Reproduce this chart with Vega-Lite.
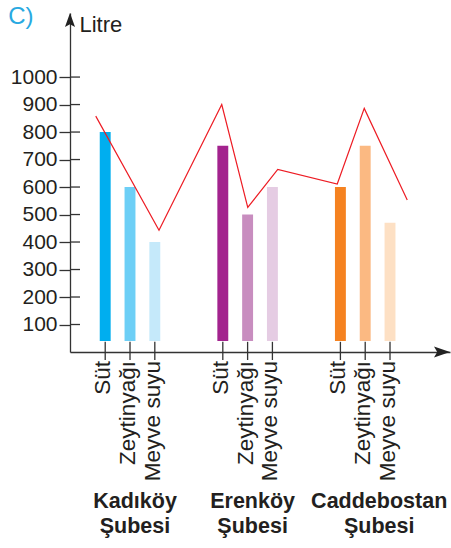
{
  "$schema": "https://vega.github.io/schema/vega-lite/v6.json",
  "autosize": {"type": "none"},
  "padding": {"left": 70, "top": 13, "right": 1, "bottom": 196},
  "width": 380,
  "height": 339,
  "background": "white",
  "config": {"view": {"stroke": null}, "font": "Liberation Sans"},
  "datasets": {
    "bars": [
      {"branch": "Kadıköy", "product": "Süt", "series": "Kadıköy Süt", "litre": 800},
      {"branch": "Kadıköy", "product": "Zeytinyağı", "series": "Kadıköy Zeytinyağı", "litre": 600},
      {"branch": "Kadıköy", "product": "Meyve suyu", "series": "Kadıköy Meyve suyu", "litre": 400},
      {"branch": "Erenköy", "product": "Süt", "series": "Erenköy Süt", "litre": 750},
      {"branch": "Erenköy", "product": "Zeytinyağı", "series": "Erenköy Zeytinyağı", "litre": 500},
      {"branch": "Erenköy", "product": "Meyve suyu", "series": "Erenköy Meyve suyu", "litre": 600},
      {"branch": "Caddebostan", "product": "Süt", "series": "Caddebostan Süt", "litre": 600},
      {"branch": "Caddebostan", "product": "Zeytinyağı", "series": "Caddebostan Zeytinyağı", "litre": 750},
      {"branch": "Caddebostan", "product": "Meyve suyu", "series": "Caddebostan Meyve suyu", "litre": 470}
    ],
    "branches": [
      {"branch": "Kadıköy", "label": "Kadıköy\nŞubesi"},
      {"branch": "Erenköy", "label": "Erenköy\nŞubesi"},
      {"branch": "Caddebostan", "label": "Caddebostan\nŞubesi"}
    ],
    "redline": [
      {"t": 1.03, "litre": 858},
      {"t": 3.56, "litre": 443},
      {"t": 6.07, "litre": 900},
      {"t": 7.11, "litre": 526},
      {"t": 8.31, "litre": 664},
      {"t": 10.69, "litre": 611},
      {"t": 11.77, "litre": 886},
      {"t": 13.49, "litre": 553}
    ],
    "yticks": [
      {"v": 100}, {"v": 200}, {"v": 300}, {"v": 400}, {"v": 500},
      {"v": 600}, {"v": 700}, {"v": 800}, {"v": 900}, {"v": 1000}
    ],
    "one": [{}]
  },
  "layer": [
    {
      "layer": [
        {
          "data": {"name": "bars"},
          "mark": {"type": "bar"},
          "encoding": {
            "x": {"field": "branch", "type": "nominal", "scale": {"domain": ["Kadıköy", "Erenköy", "Caddebostan"], "paddingInner": 0.3673, "paddingOuter": 0.2993, "align": 0.324},
              "axis": {"title": null, "labels": false, "ticks": false, "domain": true, "domainColor": "#333333", "domainWidth": 1.3}},
            "xOffset": {"field": "product", "type": "nominal", "scale": {"domain": ["Süt", "Zeytinyağı", "Meyve suyu"], "paddingInner": 0.56, "paddingOuter": 0.28}},
            "y": {"field": "litre", "type": "quantitative", "scale": {"domain": [0, 1233], "nice": false},
              "axis": {"values": [100, 200, 300, 400, 500, 600, 700, 800, 900, 1000], "format": "d", "tickCount": 20, "labelOverlap": false, "labelFlush": false, "labelBound": false, "grid": false, "tickSize": 11, "tickWidth": 1.3, "tickColor": "#333333", "domainColor": "#333333", "domainWidth": 1.3, "labelPadding": 2, "labelFontSize": 21, "labelColor": "#231f20", "labelFont": "Liberation Sans",
                "title": "Litre", "titleAngle": 0, "titleAlign": "left", "titleBaseline": "alphabetic", "titleX": 9, "titleY": 18.7, "titleFontSize": 22, "titleFontWeight": "normal", "titleColor": "#231f20", "titleFont": "Liberation Sans"}},
            "y2": {"datum": 40},
            "color": {"field": "series", "type": "nominal", "legend": null,
              "scale": {"domain": ["Kadıköy Süt", "Kadıköy Zeytinyağı", "Kadıköy Meyve suyu", "Erenköy Süt", "Erenköy Zeytinyağı", "Erenköy Meyve suyu", "Caddebostan Süt", "Caddebostan Zeytinyağı", "Caddebostan Meyve suyu"],
                "range": ["#00AEEF", "#6DCFF6", "#C5E9FA", "#A3238E", "#C88DBF", "#E5CCE3", "#F58220", "#FBB982", "#FDE0C4"]}}
          }
        },
        {
          "data": {"name": "bars"},
          "mark": {"type": "rule", "color": "#333333", "strokeWidth": 1.3},
          "encoding": {
            "x": {"field": "branch", "type": "nominal"},
            "xOffset": {"field": "product", "type": "nominal"},
            "y": {"datum": -29},
            "y2": {"datum": 37}
          }
        },
        {
          "data": {"name": "bars"},
          "mark": {"type": "text", "angle": 270, "align": "right", "baseline": "alphabetic", "dy": 5, "fontSize": 22.5, "color": "#231f20", "font": "Liberation Sans"},
          "encoding": {
            "x": {"field": "branch", "type": "nominal"},
            "xOffset": {"field": "product", "type": "nominal"},
            "y": {"datum": -33},
            "text": {"field": "product"}
          }
        },
        {
          "data": {"name": "branches"},
          "transform": [{"filter": "datum.branch !== 'Caddebostan'"}],
          "mark": {"type": "text", "fontWeight": "bold", "fontSize": 21.5, "lineBreak": "\n", "lineHeight": 25, "baseline": "alphabetic", "align": "center", "dx": 5, "color": "#231f20", "font": "Liberation Sans"},
          "encoding": {
            "x": {"field": "branch", "type": "nominal"},
            "y": {"datum": -568},
            "text": {"field": "label"}
          }
        },
        {
          "data": {"name": "branches"},
          "transform": [{"filter": "datum.branch === 'Caddebostan'"}],
          "mark": {"type": "text", "fontWeight": "bold", "fontSize": 21.5, "lineBreak": "\n", "lineHeight": 25, "baseline": "alphabetic", "align": "center", "dx": 14, "color": "#231f20", "font": "Liberation Sans"},
          "encoding": {
            "x": {"field": "branch", "type": "nominal"},
            "y": {"datum": -568},
            "text": {"field": "label"}
          }
        }
      ]
    },
    {
      "layer": [
        {
          "data": {"name": "redline"},
          "mark": {"type": "line", "color": "#ED1C24", "strokeWidth": 1.2},
          "encoding": {
            "x": {"field": "t", "type": "quantitative", "scale": {"domain": [0, 15.2], "nice": false, "zero": false}, "axis": null},
            "y": {"field": "litre", "type": "quantitative"},
            "order": {"field": "t"}
          }
        },
        {
          "data": {"name": "yticks"},
          "mark": {"type": "rule", "color": "#333333", "strokeWidth": 1.3},
          "encoding": {
            "x": {"datum": 0},
            "x2": {"datum": 0.4},
            "y": {"field": "v", "type": "quantitative"}
          }
        },
        {
          "data": {"name": "one"},
          "mark": {"type": "point", "shape": "M0,0L0.36,1L0,0.8L-0.36,1Z", "filled": true, "color": "#222222", "size": 784, "opacity": 1},
          "encoding": {"x": {"datum": 0}, "y": {"datum": 1233}}
        },
        {
          "data": {"name": "one"},
          "mark": {"type": "point", "shape": "M0,0L-1,-0.34L-0.8,0L-1,0.34Z", "filled": true, "color": "#222222", "size": 1024, "opacity": 1},
          "encoding": {"x": {"datum": 15.2}, "y": {"datum": 0}}
        },
        {
          "data": {"name": "one"},
          "mark": {"type": "text", "text": "C)", "align": "left", "baseline": "alphabetic", "fontSize": 24, "fontWeight": "normal", "color": "#29A9E1", "font": "Liberation Sans"},
          "encoding": {"x": {"datum": -2.47}, "y": {"datum": 1193}}
        }
      ]
    }
  ],
  "resolve": {"scale": {"x": "independent"}}
}
